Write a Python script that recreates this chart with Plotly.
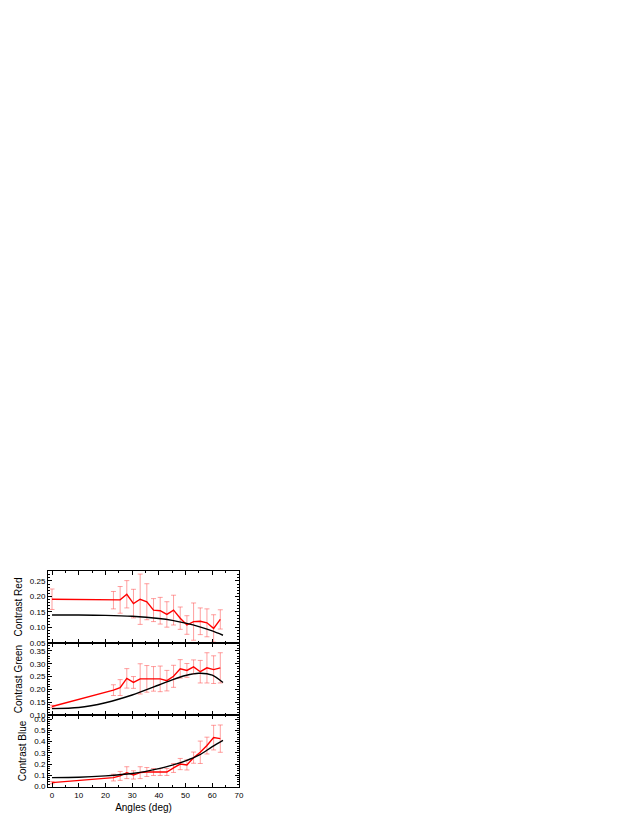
import plotly.graph_objects as go
from plotly.subplots import make_subplots

# --- data ---
angles_meas = [0, 23, 25.5, 28, 30.5, 33, 35.5, 38, 40.5, 43, 45.5, 48, 50.5, 53, 55.5, 58, 60.5, 63]

red_meas = [0.191, 0.188, 0.189, 0.207, 0.177, 0.191, 0.183, 0.156, 0.154, 0.142, 0.156, 0.130, 0.108, 0.119, 0.120, 0.115, 0.097, 0.126]
red_err = [0.033, 0.028, 0.043, 0.044, 0.046, 0.081, 0.058, 0.037, 0.043, 0.041, 0.048, 0.036, 0.030, 0.060, 0.043, 0.045, 0.044, 0.031]

green_meas = [0.133, 0.197, 0.207, 0.243, 0.227, 0.241, 0.241, 0.241, 0.241, 0.234, 0.251, 0.280, 0.274, 0.288, 0.269, 0.284, 0.277, 0.284]
green_err = [0.005, 0.021, 0.031, 0.038, 0.023, 0.059, 0.052, 0.048, 0.050, 0.040, 0.043, 0.036, 0.027, 0.027, 0.044, 0.059, 0.054, 0.059]

blue_meas = [0.034, 0.079, 0.094, 0.123, 0.103, 0.123, 0.129, 0.129, 0.129, 0.129, 0.165, 0.200, 0.192, 0.257, 0.305, 0.365, 0.436, 0.427]
blue_err = [0.010, 0.030, 0.040, 0.053, 0.037, 0.053, 0.040, 0.031, 0.031, 0.031, 0.040, 0.050, 0.045, 0.050, 0.100, 0.075, 0.110, 0.122]

angles_model = [0, 10, 20, 30, 40, 45, 50, 55, 60, 64]
red_model = [0.140, 0.140, 0.139, 0.136, 0.129, 0.123, 0.114, 0.103, 0.089, 0.075]
green_model = [0.125, 0.129, 0.148, 0.178, 0.217, 0.237, 0.254, 0.263, 0.256, 0.227]
blue_model = [0.079, 0.082, 0.094, 0.115, 0.159, 0.190, 0.228, 0.279, 0.355, 0.412]

y_titles = ["Contrast Red", "Contrast Green", "Contrast Blue"]
x_ticks = [0, 10, 20, 30, 40, 50, 60, 70]

FONT = "Liberation Sans, Arial, sans-serif"

fig = make_subplots(rows=3, cols=1, shared_xaxes=True, vertical_spacing=0)

series = [
    (red_meas, red_err, red_model),
    (green_meas, green_err, green_model),
    (blue_meas, blue_err, blue_model),
]

for i, (meas, err, model) in enumerate(series, start=1):
    fig.add_trace(go.Scatter(
        x=angles_meas, y=meas, mode="lines",
        line=dict(color="#ff0000", width=1.4),
        error_y=dict(type="data", array=err, visible=True,
                     color="rgba(255,80,80,0.55)", thickness=1, width=2.5),
        showlegend=False,
    ), row=i, col=1)
    fig.add_trace(go.Scatter(
        x=angles_model, y=model, mode="lines",
        line=dict(color="#000000", width=1.4, shape="spline", smoothing=0.8),
        showlegend=False,
    ), row=i, col=1)

axis_common = dict(
    showline=True, linecolor="black", linewidth=1, mirror="ticks",
    ticks="inside", ticklen=4, tickwidth=1, tickcolor="black",
    showgrid=False, zeroline=False,
    tickfont=dict(family=FONT, size=8, color="black"),
)

yranges = [[0.05, 0.282], [0.10, 0.381], [-0.005, 0.638]]
ydticks = [0.05, 0.05, 0.1]
yformats = [".2f", ".2f", ".1f"]

for i in range(1, 4):
    fig.update_yaxes(
        range=yranges[i - 1], dtick=ydticks[i - 1], tick0=0, tickformat=yformats[i - 1],
        title=dict(text=y_titles[i - 1], font=dict(family=FONT, size=10, color="black"), standoff=5),
        minor=dict(ticks="inside", ticklen=2, tickcolor="black", showgrid=False),
        **axis_common, row=i, col=1)
    fig.update_xaxes(
        range=[-1.5, 70], tickvals=x_ticks,
        minor=dict(ticks="inside", ticklen=2, tickcolor="black", dtick=5, showgrid=False),
        **axis_common, row=i, col=1)

fig.update_xaxes(title=dict(text="Angles (deg)", font=dict(family=FONT, size=10, color="black"), standoff=5),
                 row=3, col=1)

# the page body adds an 8px offset, so margins are shifted accordingly
fig.update_layout(
    width=638, height=825,
    margin=dict(l=40, r=407, t=563, b=46, autoexpand=False),
    plot_bgcolor="white", paper_bgcolor="white",
    font=dict(family=FONT, color="black"),
)

fig.write_html("out.html")
